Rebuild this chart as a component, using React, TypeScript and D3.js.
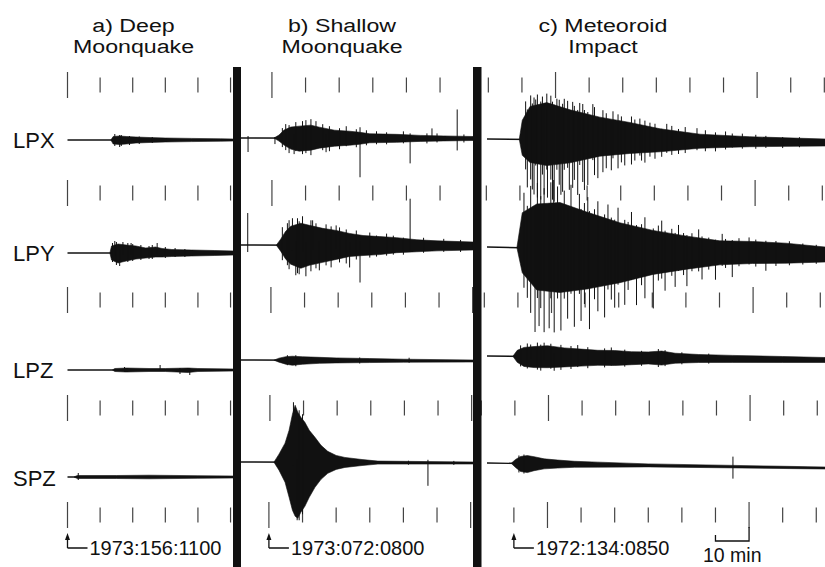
import React from 'react';
import * as d3 from 'd3';

// [minutes from start mark, amplitude up, amplitude down]
type Pt = [number, number, number];

const channels = ['LPX', 'LPY', 'LPZ', 'SPZ'];
const panelTitles = [
  ['a) Deep', 'Moonquake'],
  ['b) Shallow', 'Moonquake'],
  ['c) Meteoroid', 'Impact'],
];
const startTimes = ['1973:156:1100', '1973:072:0800', '1972:134:0850'];

// minutes shown in each panel, relative to the start mark
const panelMinutes = [[0, 51], [-8.3, 60.7], [-8, 92.6]];
// 10 minute time marks, hour marks drawn longer
const tickMinutes = [
  [0, 10, 20, 30, 40, 50],
  [-10, 0, 10, 20, 30, 40, 50, 60],
  [-10, 0, 10, 20, 30, 40, 50, 60, 70, 80, 90],
];
const hourMinutes = [[0], [0, 60], [10, 70]];
// drift of the time marks, minutes, per mark row (top to bottom)
const rowShift = [
  [0, 0, 0, 0, 0],
  [0.9, 0.9, 0.6, 0.3, 0],
  [2.4, 1.8, 1.2, 0.3, 0],
];

// a) deep moonquake
const deepLPX: Pt[] = [[13.3, 0, 0], [14, 3.5, 4], [16, 4, 4.5], [18, 3.5, 4], [21, 3, 3], [25, 2.5, 2.5], [30, 2, 2], [38, 1.6, 1.6], [47, 1.2, 1.2], [51, 1, 1]];
const deepLPY: Pt[] = [[13, 0, 0], [13.5, 7, 7], [15.5, 9, 10], [18, 8, 8], [21, 7, 6], [24, 5, 5], [27, 6, 4], [29, 4.5, 4], [32, 3.5, 3.5], [38, 3, 3], [45, 2.5, 2.5], [51, 2, 2]];
const deepLPZ: Pt[] = [[13.8, 0, 0], [14.5, 1.5, 1.5], [18, 2, 2], [25, 1.5, 1.5], [30, 1.5, 1.5], [37, 2, 2.5], [40, 1.5, 1.5], [51, 1, 1]];
const deepSPZ: Pt[] = [[2, 0, 0], [3, 1.5, 1.5], [15, 1.5, 1.5], [25, 1.8, 1.8], [40, 1.3, 1.3], [51, 1, 1]];
const deepSpikes: Pt[][] = [
  [[14.5, 6, 6], [16, 5, 7], [16.5, 5, 6], [19, 4, 5], [22, 3.5, 4], [26, 3, 3]],
  [[13.8, 10, 9], [14.5, 12, 3], [15, 11, 12], [16, 3, 13], [17, 11, 2], [18.5, 10, 9], [19.5, 10, 2], [20, 9, 8], [22.5, 8, 7], [25, 7, 6], [26, 8, 6], [27.5, 10, 1], [30, 6, 5], [33, 5, 4], [36, 4, 4]],
  [[17.5, 3, 2], [28.4, 5, 1], [34.5, 2, 4], [37.5, 2, 5]],
  [[3.3, 4, 3]],
];

// b) shallow moonquake
const shallowLPX: Pt[] = [[1.5, 0, 0], [3, 3, 3], [4.5, 8, 7], [6.5, 11, 11], [9, 12, 13], [12.5, 13, 12], [15, 11, 10], [19.5, 8, 8], [24, 7, 7], [27, 6, 6], [30, 4.5, 4.5], [38, 4, 4], [45, 3, 3], [52, 2.5, 2.5], [60.7, 2, 2]];
const shallowLPY: Pt[] = [[2.2, 0, 0], [3.5, 6, 6], [5, 14, 14], [6.5, 19, 19], [9.5, 22, 23], [12, 20, 20], [16, 17, 17], [20, 15, 14], [24, 12, 11], [28, 10, 10], [33, 9, 9], [38, 8, 7], [44, 6, 6], [50, 5, 5], [60.7, 4, 4]];
const shallowLPZ: Pt[] = [[1.5, 0, 0], [3, 2, 2], [5, 3.5, 4], [7, 4, 5], [10, 3.5, 4], [15, 3, 3], [20, 2.5, 2.5], [30, 2, 2], [40, 1.5, 1.5], [60.7, 1, 1]];
const shallowSPZ: Pt[] = [[1.5, 0, 0], [3, 8, 8], [4.8, 19, 20], [6, 32, 35], [7, 48, 48], [7.8, 57, 54], [8.6, 50, 56], [9.5, 45, 50], [10.7, 40, 44], [12, 32, 35], [13.7, 25, 25], [15.5, 17, 17], [17.5, 11, 11], [20, 7, 7], [22.6, 5, 5], [27.7, 3, 3], [32.4, 1.5, 1.5], [60.7, 1, 1]];
const shallowSpikes: Pt[][] = [
  [[-6.2, 2, 14], [1.8, 1, 6], [4, 10, 9], [5, 14, 12], [6, 13, 15], [7.5, 4, 16], [8, 16, 13], [10, 17, 16], [11, 18, 15], [12.5, 19, 17], [14, 17, 4], [16, 14, 12], [17, 4, 14], [18, 12, 13], [21, 10, 11], [23, 12, 8], [26, 9, 9], [27.1, 11, 39], [29, 8, 7], [32, 7, 6], [35, 6, 6], [40, 7, 5], [42, 5, 25], [47, 5, 5], [48.5, 10, 2], [50, 5, 4], [56, 29, 12], [58, 4, 4]],
  [[-6.3, 32, 7], [4, 18, 15], [5.5, 22, 20], [6, 25, 24], [7, 27, 5], [8, 4, 30], [8.5, 27, 28], [9, 24, 29], [10, 29, 6], [11, 3, 31], [12.5, 25, 26], [13, 25, 4], [14, 22, 23], [15, 4, 25], [17, 21, 20], [18.5, 19, 22], [20, 20, 3], [21, 18, 17], [23, 16, 18], [24, 3, 22], [26, 15, 14], [27.1, 4, 37], [30, 13, 12], [32, 10, 11], [35, 12, 10], [37, 10, 9], [40, 8, 9], [42, 47, 5], [46, 8, 7], [52, 7, 6], [57, 6, 6]],
  [[5.5, 5, 5], [8, 5, 6], [27, 3, 3], [41.7, 3, 2]],
  [[7.3, 60, 3], [8.4, 3, 58], [9, 52, 58], [10, 48, 52], [41.5, 2, 2], [47.3, 3, 23], [55, 2, 2]],
];

// c) meteoroid impact
const impactLPX: Pt[] = [[1.6, 0, 0], [2.5, 19, 16], [4.8, 33, 23], [9.8, 37, 26], [16.7, 30, 23], [25.6, 23, 16], [34.5, 18, 13], [43.5, 12, 11], [55.4, 7, 7], [70.2, 5, 5], [92.6, 3.5, 3.5]];
const impactLPY: Pt[] = [[0.9, 0, 0], [2.5, 35, 25], [6.8, 44, 42], [13.7, 46, 44], [21.7, 37, 40], [31.5, 27, 33], [41.4, 20, 24], [51.5, 15, 18], [61.3, 11, 13], [71, 11, 11], [81, 10, 10], [92.6, 7, 8]];
const impactLPZ: Pt[] = [[-0.3, 0, 0], [1, 6, 6], [3, 9, 10], [6, 10, 11], [10, 11, 11], [15, 9, 10], [20, 8, 9], [25, 7, 8], [30, 7, 8], [35, 6, 7], [40, 6, 6], [44, 7, 7], [48, 5, 5], [55, 4, 4], [65, 3.5, 3.5], [80, 3, 3], [92.6, 2.5, 2.5]];
const impactSPZ: Pt[] = [[-0.8, 0, 0], [0.5, 4, 4], [2, 7, 8], [4, 8, 9], [6, 7, 7], [9, 5, 5], [13, 4, 4], [18, 3, 3], [25, 2.5, 2.5], [40, 1.5, 1.5], [92.6, 1, 1]];
const impactSpikes: Pt[][] = [
  [[3.5, 38, 30], [4, 30, 48], [5, 44, 40], [5.5, 36, 50], [6, 42, 55], [6.5, 40, 26], [7, 45, 58], [8, 38, 60], [8.5, 43, 35], [9, 36, 55], [9.8, 46, 30], [10, 30, 58], [11, 44, 40], [11.5, 38, 60], [12, 35, 62], [12.8, 41, 30], [13.5, 40, 45], [14, 30, 55], [14.5, 36, 52], [15, 41, 30], [16, 39, 28], [16.5, 30, 50], [17.5, 38, 48], [18, 34, 40], [19, 30, 55], [19.6, 37, 25], [20.5, 36, 42], [21, 30, 50], [22, 28, 45], [23.5, 36, 20], [24, 33, 35], [25, 22, 38], [26.5, 30, 32], [27.5, 27, 28], [29, 20, 30], [29.5, 29, 18], [31, 26, 28], [32, 24, 22], [33, 18, 25], [35, 24, 24], [36, 21, 20], [37.5, 22, 15], [38, 15, 20], [39, 20, 22], [40.5, 18, 16], [42, 17, 18], [44, 12, 16], [45.5, 17, 12], [47, 15, 14], [49, 12, 13], [51, 14, 12], [54.5, 13, 9], [57, 11, 10], [60, 9, 10], [63, 10, 8], [65, 8, 6], [68, 8, 7], [72, 7, 7], [75, 6, 6], [80, 5, 6], [85, 5, 5]],
  [[3, 55, 40], [4, 42, 50], [5, 62, 65], [6.3, 40, 84], [7, 65, 50], [7.5, 40, 78], [8, 52, 60], [9, 60, 84], [10.5, 45, 80], [11, 66, 50], [12, 45, 84], [13, 62, 50], [14, 45, 82], [15, 58, 50], [16, 40, 70], [17, 64, 45], [18, 40, 78], [19.5, 55, 45], [20, 40, 72], [21, 46, 55], [22, 52, 40], [22.5, 38, 80], [24, 40, 50], [25, 48, 62], [27, 35, 68], [28, 45, 40], [29, 32, 50], [30, 30, 58], [31, 42, 35], [33, 30, 55], [34, 28, 40], [35, 38, 30], [36.5, 25, 55], [38, 26, 35], [39, 33, 48], [41.5, 22, 58], [43, 25, 30], [44, 30, 28], [45, 20, 40], [47, 22, 25], [48, 18, 36], [49, 26, 20], [50.5, 18, 24], [51.5, 16, 35], [53, 18, 20], [55, 22, 20], [56, 15, 28], [58, 14, 18], [60, 12, 28], [62, 18, 14], [63, 13, 16], [65, 12, 25], [67, 14, 14], [70, 15, 12], [72, 13, 14], [75, 12, 18], [78, 12, 13], [82, 12, 12], [86, 10, 11], [90, 9, 10]],
  [[2, 11, 10], [4, 13, 12], [5, 12, 2], [7, 14, 13], [8, 12, 14], [9, 14, 3], [11, 13, 12], [12, 3, 14], [14, 12, 13], [17, 11, 12], [19, 12, 10], [22, 10, 11], [27, 9, 10], [29, 10, 8], [33, 8, 9], [38, 7, 8], [43, 9, 9], [45, 8, 8], [50, 6, 6], [58, 5, 5]],
  [[1.5, 8, 9], [3, 9, 10], [65.2, 10, 12]],
];

// ----- layout -----
const W = 825;
const H = 567;
const FONT = '"Liberation Sans", Arial, Helvetica, sans-serif';
const panelRange = [[67.5, 233.8], [241, 473], [487, 825]];
const baselines = [
  [[140, 140], [253, 253], [370, 370], [477, 477]],
  [[138, 138.5], [245, 246], [360, 361], [462, 463]],
  [[139, 142.5], [247, 254], [356, 360], [463, 468]],
];
const tickRowY = [85, 193, 300, 408, 515];
const bars = [[233, 241], [473, 481.5]];
const titleX = [133.5, 342, 603];
const labelY = [148, 261, 378, 486];

const envelopes = [
  [deepLPX, deepLPY, deepLPZ, deepSPZ],
  [shallowLPX, shallowLPY, shallowLPZ, shallowSPZ],
  [impactLPX, impactLPY, impactLPZ, impactSPZ],
];
const spikes = [deepSpikes, shallowSpikes, impactSpikes];

export default function App() {
  const ink = '#111';

  return (
    <svg width={W} height={H} style={{ position: 'absolute', left: 0, top: 0, background: '#fff' }} fontFamily={FONT}>
      <rect width={W} height={H} fill="#fff" />
      {panelMinutes.map((dom, p) => {
        const x = d3.scaleLinear().domain(dom).range(panelRange[p]);
        return (
          <g key={p}>
            {/* time marks */}
            {tickRowY.map((ry, r) => (
              <g key={r}>
                {tickMinutes[p].map((t) => {
                  const long = hourMinutes[p].includes(t);
                  const tx = x(t + rowShift[p][r]);
                  const hl = long ? 13 : 7.5;
                  return <line key={t} x1={tx} x2={tx} y1={ry - hl} y2={ry + hl} stroke="#444" strokeWidth={1.2} />;
                })}
              </g>
            ))}

            {/* traces */}
            {envelopes[p].map((env, c) => {
              const [b0, b1] = baselines[p][c];
              const base = d3.scaleLinear().domain(dom).range([b0, b1]);
              const amp = d3.scaleLinear().domain([0, 100]).range([0, 100]);
              const area = d3.area<Pt>()
                .x((d) => x(d[0]))
                .y0((d) => base(d[0]) + amp(d[2]))
                .y1((d) => base(d[0]) - amp(d[1]));
              const line = d3.line<number>().x((t) => x(t)).y((t) => base(t));
              return (
                <g key={c}>
                  <path d={line(dom) || ''} stroke={ink} strokeWidth={1.4} fill="none" />
                  <path d={area(env) || ''} fill={ink} stroke={ink} strokeWidth={0.6} />
                  {spikes[p][c].map((s, i) => (
                    <line key={i} x1={x(s[0])} x2={x(s[0])} y1={base(s[0]) - amp(s[1])} y2={base(s[0]) + amp(s[2])} stroke={ink} strokeWidth={1} />
                  ))}
                </g>
              );
            })}

            {/* titles */}
            {panelTitles[p].map((s, i) => (
              <text key={i} transform={`translate(${titleX[p]},${i === 0 ? 32 : 53}) scale(1.22,1)`} textAnchor="middle" fontSize={19} fill={ink}>
                {s}
              </text>
            ))}

            {/* start time arrow */}
            <g>
              <path d={`M${x(0)},548 V538 M${x(0)},548 H${x(0) + 20}`} stroke={ink} strokeWidth={1.3} fill="none" />
              <path d={`M${x(0) - 2.5},540 L${x(0)},533 L${x(0) + 2.5},540 Z`} fill={ink} />
              <text x={x(0) + 22} y={555} fontSize={20} fill={ink}>{startTimes[p]}</text>
            </g>

            {p === 2 && (
              <g>
                <path d={`M${x(60)},535 V541 H${x(70)} V527`} stroke={ink} strokeWidth={1.3} fill="none" />
                <text x={(x(60) + x(70)) / 2} y={562} textAnchor="middle" fontSize={19.5} fill={ink}>10 min</text>
              </g>
            )}
          </g>
        );
      })}

      {/* panel separators */}
      {bars.map(([a, b], i) => (
        <rect key={i} x={a} y={67} width={b - a} height={H - 67} fill={ink} />
      ))}

      {/* channel labels */}
      {channels.map((ch, i) => (
        <text key={ch} x={13} y={labelY[i]} fontSize={22} fill={ink}>{ch}</text>
      ))}
    </svg>
  );
}
